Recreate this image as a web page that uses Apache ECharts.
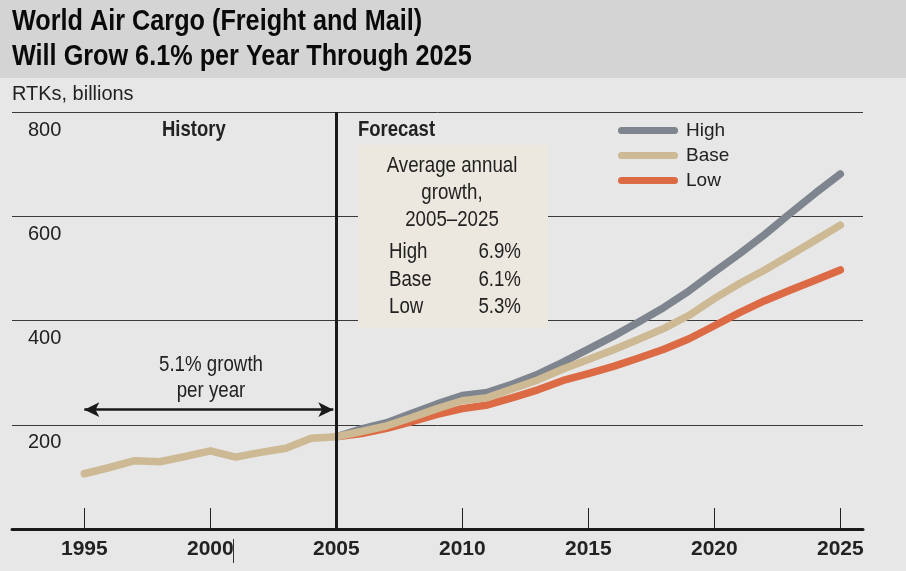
<!DOCTYPE html>
<html>
<head>
<meta charset="utf-8">
<script src="https://cdn.jsdelivr.net/npm/echarts@6/dist/echarts.min.js"></script>
<style>
  html, body { margin: 0; padding: 0; background: #e7e7e7; }
  #ec { width: 906px; height: 571px; }
</style>
</head>
<body>
<div id="ec"></div>
<script>
// history, base case only
const histYears = [1995, 1996, 1997, 1998, 1999, 2000, 2001, 2002, 2003, 2004];
const histBase = [106, 118, 131, 129, 139, 150, 138, 147, 155, 174];

// forecast 2005-2025
const fcYears = [2005, 2006, 2007, 2008, 2009, 2010, 2011, 2012, 2013, 2014, 2015,
  2016, 2017, 2018, 2019, 2020, 2021, 2022, 2023, 2024, 2025];
const high = [177, 192, 204, 222, 240, 256, 262, 278, 297, 320, 345,
  370, 397, 425, 457, 493, 528, 565, 605, 644, 681];
const base = [177, 187, 198, 214, 231, 246, 252, 269, 286, 307, 325,
  344, 364, 385, 410, 442, 471, 497, 525, 554, 583];
const low = [177, 183, 193, 206, 220, 231, 238, 252, 267, 285, 298,
  312, 328, 345, 365, 390, 415, 438, 458, 477, 497];

const xTicks = [1995, 2000, 2005, 2010, 2015, 2020, 2025];
const yTicks = [200, 400, 600, 800];
const growth = [["High", "6.9%"], ["Base", "6.1%"], ["Low", "5.3%"]];

const FONT = "'Liberation Sans', Arial, sans-serif";
const colors = { High: "#7f858f", Base: "#cdb994", Low: "#dc6b45" };
const SQUEEZE = 0.85; // fake a condensed face

const pairs = (xs, ys) => xs.map((x, i) => [x, ys[i]]);

// text drawn narrow via scaleX, x/y is the anchor point
const label = (text, x, y, font, align, extra) => Object.assign({
  type: "text", x: x, y: y, z: 6, scaleX: SQUEEZE,
  style: { text: text, font: font, fill: "#222", align: align || "left", verticalAlign: "middle" },
}, extra || {});

const titleLine = (text, y) => ({
  type: "text", x: 12, y: y, z: 6, scaleX: 0.87,
  style: { text: text, font: "bold 29px " + FONT, fill: "#0a0a0a", verticalAlign: "middle" },
});

const myChart = echarts.init(document.getElementById("ec"));

const lineSeries = (name, data) => ({
  name: name,
  type: "line",
  data: data,
  symbol: "none",
  smooth: false,
  color: colors[name],
  lineStyle: { width: 7.5, color: colors[name], cap: "round", join: "round" },
  emphasis: { disabled: true },
  z: 3,
});

const tableText = [];
growth.forEach((row, i) => {
  tableText.push(label(row[0], 389, 252 + i * 27.5, "22px " + FONT, "left"));
  tableText.push(label(row[1], 521, 252 + i * 27.5, "22px " + FONT, "right"));
});

myChart.setOption({
  backgroundColor: "#e7e7e7",
  animation: false,
  legend: {
    data: ["High", "Base", "Low"],
    orient: "vertical",
    left: 618,
    top: 121,
    padding: 0,
    itemWidth: 60,
    itemHeight: 7,
    itemGap: 6,
    icon: "path://M3.5,0 H56.5 A3.5,3.5 0 0 1 56.5,7 H3.5 A3.5,3.5 0 0 1 3.5,0 Z",
    textStyle: { fontFamily: FONT, fontSize: 19, color: "#222", padding: [0, 0, 0, 3] },
    selectedMode: false,
  },
  grid: { left: 12, right: 43, top: 112, bottom: 42 },
  xAxis: {
    type: "value",
    min: 1992.13,
    max: 2025.9,
    axisLine: { show: true, lineStyle: { color: "#1a1a1a", width: 3 } },
    axisTick: {
      show: true, inside: true, length: 21, customValues: xTicks,
      lineStyle: { color: "#222", width: 1 },
    },
    axisLabel: {
      customValues: xTicks,
      margin: 10,
      fontFamily: FONT, fontSize: 21, fontWeight: "bold", color: "#222",
      formatter: (v) => String(v),
    },
    splitLine: { show: false },
  },
  yAxis: {
    type: "value",
    min: 0,
    max: 800,
    interval: 200,
    axisLine: { show: false },
    axisTick: { show: false },
    axisLabel: {
      inside: true,
      margin: 16,
      customValues: yTicks,
      verticalAlign: "top",
      padding: [8, 0, 0, 0],
      fontFamily: FONT, fontSize: 20, color: "#222",
    },
    splitLine: { show: true, lineStyle: { color: "#3a3a3a", width: 1 } },
  },
  series: [
    lineSeries("High", pairs(fcYears, high)),
    lineSeries("Low", pairs(fcYears, low)),
    Object.assign(lineSeries("Base", pairs(histYears, histBase).concat(pairs(fcYears, base))), {
      markLine: {
        silent: true,
        symbol: "none",
        label: { show: false },
        z: 4,
        data: [
          { xAxis: 2005, lineStyle: { color: "#1a1a1a", width: 3, type: "solid" } },
          [
            { coord: [1995, 229], symbol: "arrow", symbolSize: [11, 15],
              lineStyle: { color: "#1a1a1a", width: 2.5, type: "solid" } },
            { coord: [2004.88, 229], symbol: "arrow", symbolSize: [11, 15],
              lineStyle: { color: "#1a1a1a", width: 2.5, type: "solid" } },
          ],
        ],
      },
    }),
  ],
  graphic: [
    { type: "rect", x: 0, y: 0, z: -10, shape: { width: 906, height: 78 }, style: { fill: "#d4d4d4" } },
    titleLine("World Air Cargo (Freight and Mail)", 22),
    titleLine("Will Grow 6.1% per Year Through 2025", 57),
    label("RTKs, billions", 12, 94, "21px " + FONT, "left", { scaleX: 0.95 }),
    label("History", 162, 130, "bold 22px " + FONT, "left", { scaleX: 0.84 }),
    label("Forecast", 358, 130, "bold 22px " + FONT, "left", { scaleX: 0.84 }),
    { type: "rect", x: 358, y: 145, z: 5, shape: { width: 190, height: 183 }, style: { fill: "#ece8df" } },
    label("Average annual", 452, 166, "22px " + FONT, "center"),
    label("growth,", 452, 193, "22px " + FONT, "center"),
    label("2005\u20132025", 452, 220, "22px " + FONT, "center"),
    label("5.1% growth", 211, 365, "22px " + FONT, "center"),
    label("per year", 211, 391, "22px " + FONT, "center"),
    // stray mark next to the 2000 label in the original
    { type: "line", z: 6, shape: { x1: 233.5, y1: 539, x2: 233.5, y2: 563 }, style: { stroke: "#333", lineWidth: 1 } },
  ].concat(tableText),
});
</script>
</body>
</html>
